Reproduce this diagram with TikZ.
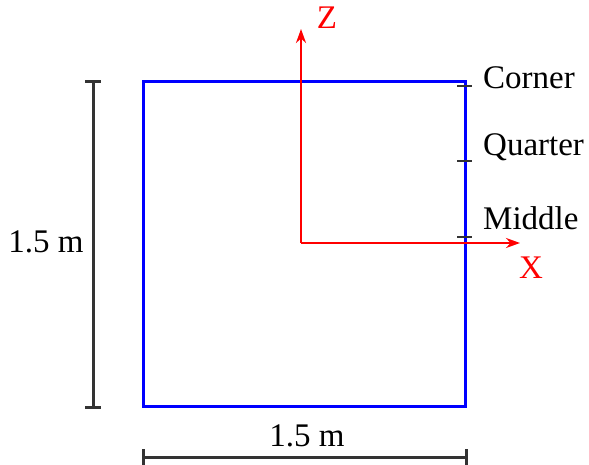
\documentclass[tikz,border=0pt]{standalone}
\usepackage{fontspec}
\setmainfont{Liberation Serif}
\usetikzlibrary{arrows.meta}
\begin{document}
\begin{tikzpicture}[x=1pt,y=-1pt,
  lbl/.style={font=\fontsize{33}{35}\selectfont, inner sep=0pt},
  redlbl/.style={lbl, text=red},
  dim/.style={draw=black!80, line width=3pt},
  axis/.style={draw=red, line width=2.6pt, -{Stealth[length=14pt,width=10pt]}},
  tickm/.style={draw=black!80, line width=2.4pt}]
\useasboundingbox (0,0) rectangle (589,465);
% square
\draw[blue, line width=3pt] (143,82) rectangle (465,406);
% coordinates
\coordinate (o) at (301,243);
\coordinate (zt) at (301,29);
\coordinate (xt) at (520,243);
\draw[axis] (o) -- (zt);
\draw[axis] (o) -- (xt);
\node[redlbl] (zl) at (327,18) {Z};
\node[redlbl] (xl) at (531,268) {X};
% ticks on right edge
\coordinate (c1) at (457,86);  \coordinate (c2) at (472,86);
\coordinate (q1) at (457,161); \coordinate (q2) at (472,161);
\coordinate (m1) at (457,237); \coordinate (m2) at (472,237);
\draw[tickm] (c1) -- (c2);
\draw[tickm] (q1) -- (q2);
\draw[tickm] (m1) -- (m2);
\node[lbl, anchor=west] (corner) at (483,78) {Corner};
\node[lbl, anchor=west] (quarter) at (483,147) {Quarter};
\node[lbl, anchor=west] (middle) at (483,218) {Middle};
% vertical dimension
\coordinate (vt) at (93,82);
\coordinate (vb) at (93,407);
\draw[dim] (vt) -- (vb);
\draw[dim] (85,82) -- (101,82);
\draw[dim] (85,407) -- (101,407);
\node[lbl] (vlab) at (46,242) {1.5 m};
% horizontal dimension
\coordinate (hl) at (143,457);
\coordinate (hr) at (466,457);
\draw[dim] (hl) -- (hr);
\draw[dim] (143,449) -- (143,466);
\draw[dim] (466,449) -- (466,466);
\node[lbl] (hlab) at (307,436) {1.5 m};
\end{tikzpicture}
\end{document}
